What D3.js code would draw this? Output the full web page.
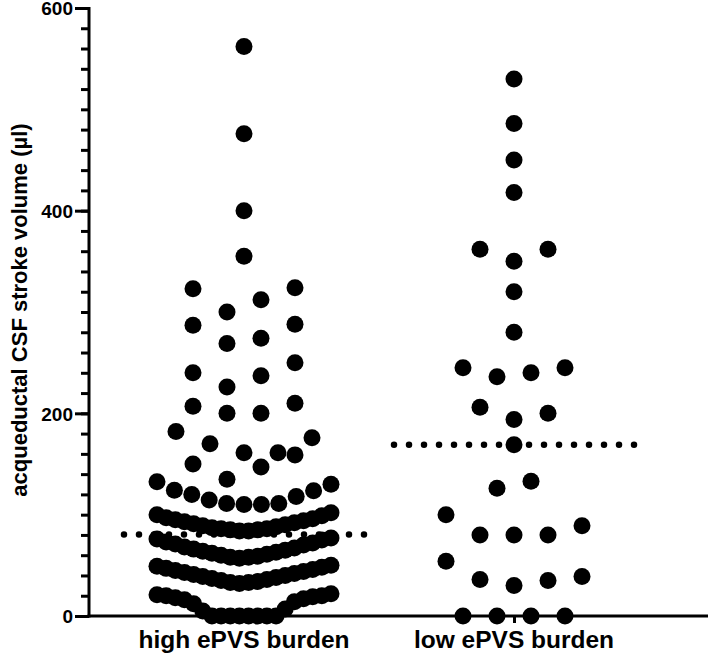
<!DOCTYPE html>
<html>
<head>
<meta charset="utf-8">
<script src="https://cdn.jsdelivr.net/npm/d3@7"></script>
<style>
  body { margin: 0; background: #fff; }
  svg text { font-family: "Liberation Sans", Arial, sans-serif; font-weight: bold; fill: #000; }
</style>
</head>
<body>
<div id="chart"></div>
<script>
// categories
var groups = ["high ePVS burden", "low ePVS burden"];

// aqueductal CSF stroke volume (µl), one value per subject
var highValues = [
  0, 0, 0, 0, 0, 0, 0, 0, 5, 7, 12, 14, 16, 17, 18, 19, 20, 20, 21, 22,
  32, 33, 33, 34, 35, 36, 37, 38, 39, 40, 41, 42, 43, 44, 45, 46, 47, 48, 49, 50,
  57, 58, 58, 59, 60, 61, 62, 63, 64, 65, 66, 67, 68, 70, 71, 72, 73, 75, 76, 77,
  84, 84, 85, 85, 86, 86, 87, 88, 89, 90, 91, 92, 93, 94, 95, 96, 97, 99, 100, 102,
  110, 110, 111, 111, 114.5, 118, 120, 123.5, 124, 130, 132.5,
  135, 147, 150, 159,
  161, 161, 170, 176, 182,
  200, 200, 207, 210,
  226, 237, 240, 250,
  269, 274, 287, 288,
  300, 312, 323, 324,
  355, 400, 476, 562
];
var lowValues = [
  0, 0, 0, 0, 30, 35, 36, 39, 54, 80, 80, 80, 89, 100, 126, 133, 169,
  194, 200, 206, 236, 240, 245, 245, 280, 320, 350, 362, 362, 418, 450, 486, 530
];
var seriesValues = [highValues, lowValues];

// y ticks
var majorTicks = [0, 200, 400, 600];
var minorTicks = d3.range(0, 601, 20);

var width = 708, height = 658;
var mLeft = 89, mTop = 8, mBottom = 616;
var r = 8.5;
var rowSpan = 24.5;   // values closer than this share a row
var maxStep = 34, maxSpan = 174;

var y = d3.scaleLinear().domain([0, 600]).range([mBottom, mTop]);
var x = d3.scalePoint().domain(groups).range([mLeft, mLeft + 580]).padding(0.574);

var svg = d3.select("#chart").append("svg")
  .attr("width", width)
  .attr("height", height);

// y axis
var gMinor = svg.append("g")
  .attr("transform", "translate(" + mLeft + ",0)")
  .call(d3.axisLeft(y).tickValues(minorTicks).tickSize(8).tickSizeOuter(0).tickFormat(""));
var gY = svg.append("g")
  .attr("transform", "translate(" + mLeft + ",0)")
  .call(d3.axisLeft(y).tickValues(majorTicks).tickSize(14).tickSizeOuter(0).tickPadding(2));
gY.selectAll("text").attr("font-size", 19).attr("dy", "0.36em");
gMinor.select(".domain").remove();
gY.select(".domain").attr("stroke-width", 3).attr("stroke", "#000")
  .attr("d", "M0," + (mTop - 1) + "V" + (mBottom + 1.5));
svg.selectAll(".tick line").attr("stroke-width", 3).attr("stroke", "#000");

// x axis
var gX = svg.append("g")
  .attr("transform", "translate(0," + mBottom + ")")
  .call(d3.axisBottom(x).tickSize(7).tickSizeOuter(0).tickFormat(""));
gX.select(".domain").remove();
gX.selectAll(".tick line").attr("stroke-width", 3).attr("stroke", "#000");
gX.append("line")
  .attr("x1", mLeft - 1.5).attr("x2", width)
  .attr("stroke", "#000").attr("stroke-width", 3);

svg.append("g").selectAll("text")
  .data(groups)
  .enter().append("text")
  .attr("x", function(d) { return x(d); })
  .attr("y", 648)
  .attr("text-anchor", "middle")
  .attr("font-size", 24.5)
  .text(function(d) { return d; });

svg.append("text")
  .attr("transform", "translate(27," + 310 + ") rotate(-90)")
  .attr("text-anchor", "middle")
  .attr("font-size", 22)
  .text("acqueductal CSF stroke volume (µl)");

// GraphPad-like scatter: sorted values grouped into rows, spread center-out
function swarm(values, cx) {
  var sorted = values.slice().sort(d3.ascending);
  var rows = [], cur = null;
  sorted.forEach(function(v) {
    if (!cur || v - cur[0] > rowSpan) { cur = [v]; rows.push(cur); }
    else cur.push(v);
  });
  var pts = [];
  rows.forEach(function(row) {
    var n = row.length;
    var step = n > 1 ? Math.min(maxStep, maxSpan / (n - 1)) : 0;
    row.forEach(function(v, i) {
      var k;
      if (n % 2) {
        k = i === 0 ? 0 : (i % 2 ? (i + 1) / 2 : -i / 2);
      } else {
        var m = Math.floor(i / 2) + 0.5;
        k = i % 2 ? m : -m;
      }
      pts.push({value: v, x: cx + k * step});
    });
  });
  return pts;
}

groups.forEach(function(g, gi) {
  var pts = swarm(seriesValues[gi], x(g));
  svg.append("g").selectAll("circle")
    .data(pts)
    .enter().append("circle")
    .attr("cx", function(d) { return d.x; })
    .attr("cy", function(d) { return y(d.value); })
    .attr("r", r)
    .attr("fill", "#000");

  var med = d3.median(seriesValues[gi]);
  svg.append("line")
    .attr("x1", x(g) - 120).attr("x2", x(g) + 121)
    .attr("y1", y(med)).attr("y2", y(med))
    .attr("stroke", "#000")
    .attr("stroke-width", 6.5)
    .attr("stroke-linecap", "round")
    .attr("stroke-dasharray", "0,15");
});
</script>
</body>
</html>
